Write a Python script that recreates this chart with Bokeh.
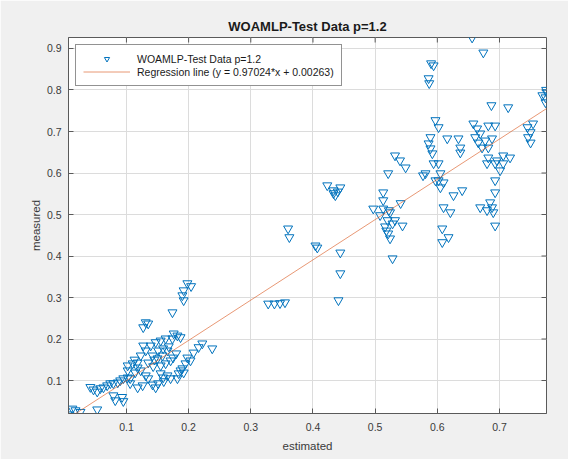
import math
from bokeh.plotting import figure
from bokeh.models import Range1d, FixedTicker, Legend, LegendItem
from bokeh.embed import file_html
from bokeh.resources import INLINE

title_text = "WOAMLP-Test Data p=1.2"
series_label = "WOAMLP-Test Data p=1.2"
line_label = "Regression line (y = 0.97024*x + 0.00263)"
slope = 0.97024
intercept = 0.00263

x_ticks = [0.1, 0.2, 0.3, 0.4, 0.5, 0.6, 0.7]
y_ticks = [0.1, 0.2, 0.3, 0.4, 0.5, 0.6, 0.7, 0.8, 0.9]
x_lo, x_hi = 0.0068, 0.7756
y_lo, y_hi = 0.0205, 0.9265

# low cluster
est_low = [0.007, 0.013, 0.018, 0.026, 0.053, 0.079, 0.082, 0.093, 0.095, 0.042, 0.047, 0.053,
           0.058, 0.063, 0.069, 0.074, 0.079, 0.086, 0.090, 0.095, 0.102, 0.102, 0.110, 0.118,
           0.198, 0.204, 0.192, 0.190, 0.192, 0.174, 0.131, 0.135, 0.127, 0.176, 0.182, 0.187,
           0.174, 0.222, 0.216, 0.238, 0.208, 0.198, 0.203, 0.195, 0.190, 0.192, 0.155, 0.159,
           0.166, 0.151, 0.147, 0.139, 0.147, 0.155, 0.163, 0.151, 0.159, 0.168, 0.142, 0.150,
           0.158, 0.166, 0.171, 0.135, 0.143, 0.155, 0.163, 0.131, 0.123, 0.127, 0.123, 0.131,
           0.114, 0.106, 0.135, 0.142, 0.126, 0.187, 0.184, 0.182, 0.102, 0.118, 0.106, 0.118,
           0.171, 0.160, 0.145, 0.175, 0.180, 0.113]
mea_low = [0.018, 0.032, 0.028, 0.024, 0.030, 0.064, 0.052, 0.060, 0.050, 0.084, 0.078, 0.073,
           0.081, 0.083, 0.088, 0.093, 0.093, 0.095, 0.100, 0.105, 0.107, 0.136, 0.141, 0.143,
           0.334, 0.327, 0.317, 0.305, 0.293, 0.264, 0.240, 0.237, 0.228, 0.213, 0.208, 0.204,
           0.201, 0.189, 0.180, 0.177, 0.167, 0.155, 0.148, 0.141, 0.129, 0.119, 0.117, 0.107,
           0.112, 0.093, 0.083, 0.184, 0.192, 0.196, 0.201, 0.172, 0.177, 0.182, 0.160, 0.153,
           0.160, 0.172, 0.148, 0.143, 0.134, 0.136, 0.141, 0.172, 0.160, 0.184, 0.124, 0.112,
           0.119, 0.105, 0.105, 0.090, 0.088, 0.124, 0.117, 0.105, 0.124, 0.131, 0.093, 0.083,
           0.105, 0.098, 0.150, 0.155, 0.165, 0.150]

# middle cluster
est_mid = [0.328, 0.338, 0.347, 0.355, 0.360, 0.362, 0.404, 0.407, 0.423, 0.433, 0.444, 0.436,
           0.433, 0.440, 0.444, 0.444, 0.441, 0.497, 0.513, 0.513, 0.541, 0.513, 0.524, 0.520,
           0.528, 0.544, 0.521, 0.524, 0.532, 0.508, 0.516, 0.522, 0.518, 0.528, 0.521, 0.532,
           0.540, 0.549]
mea_mid = [0.285, 0.285, 0.286, 0.288, 0.466, 0.445, 0.425, 0.420, 0.570, 0.551, 0.565, 0.546,
           0.558, 0.555, 0.408, 0.358, 0.293, 0.514, 0.553, 0.534, 0.527, 0.514, 0.505, 0.486,
           0.478, 0.473, 0.454, 0.442, 0.486, 0.498, 0.471, 0.510, 0.461, 0.394, 0.599, 0.642,
           0.630, 0.613]

# high cluster
est_high = [0.656, 0.674, 0.590, 0.594, 0.586, 0.587, 0.687, 0.714, 0.776, 0.774, 0.774, 0.769,
            0.775, 0.597, 0.602, 0.589, 0.586, 0.589, 0.616, 0.634, 0.637, 0.658, 0.664, 0.669,
            0.661, 0.666, 0.682, 0.693, 0.688, 0.682, 0.745, 0.754, 0.750, 0.746, 0.750, 0.706,
            0.717, 0.592, 0.594, 0.602, 0.605, 0.602, 0.610, 0.605, 0.577, 0.626, 0.640, 0.610,
            0.621, 0.608, 0.618, 0.608, 0.680, 0.696, 0.706, 0.701, 0.693, 0.693, 0.669, 0.680,
            0.688, 0.690, 0.685, 0.693, 0.637, 0.581, 0.597, 0.677, 0.672, 0.682, 0.693]
mea_high = [0.926, 0.890, 0.864, 0.859, 0.828, 0.816, 0.763, 0.758, 0.794, 0.782, 0.770, 0.787,
            0.800, 0.727, 0.710, 0.686, 0.671, 0.659, 0.683, 0.683, 0.661, 0.719, 0.707, 0.695,
            0.686, 0.673, 0.714, 0.714, 0.683, 0.661, 0.710, 0.719, 0.698, 0.686, 0.673, 0.642,
            0.637, 0.647, 0.623, 0.623, 0.599, 0.582, 0.577, 0.565, 0.594, 0.546, 0.558, 0.517,
            0.505, 0.466, 0.445, 0.433, 0.623, 0.630, 0.623, 0.606, 0.582, 0.553, 0.517, 0.510,
            0.517, 0.505, 0.529, 0.473, 0.649, 0.599, 0.582, 0.678, 0.661, 0.637, 0.623]

estimated = est_low + est_mid + est_high
measured = mea_low + mea_mid + mea_high

FONT = "Liberation Sans"
TXT = "#3a3a3a"
AX = "#5a5a5a"

p = figure(width=568, height=459, output_backend="svg", toolbar_location=None,
           x_range=Range1d(x_lo, x_hi), y_range=Range1d(y_lo, y_hi),
           min_border_left=68, min_border_right=22, min_border_top=37, min_border_bottom=46,
           background_fill_color="white", border_fill_color="#f0f0f0",
           outline_line_color=AX, outline_line_width=1)

p.title.text = title_text
p.title.align = "center"
p.title.text_font = FONT
p.title.text_font_size = "13px"
p.title.text_font_style = "bold"
p.title.text_color = "#1a1a1a"
p.title.standoff = 8

for ax in p.xaxis:
    ax.ticker = FixedTicker(ticks=x_ticks)
for ax in p.yaxis:
    ax.ticker = FixedTicker(ticks=y_ticks)

for ax in p.axis:
    ax.major_tick_in = 5
    ax.major_tick_out = 0
    ax.minor_tick_line_color = None
    ax.axis_line_color = AX
    ax.major_tick_line_color = AX
    ax.major_label_text_font = FONT
    ax.major_label_text_font_size = "10.5px"
    ax.major_label_text_color = TXT
    ax.axis_label_text_font = FONT
    ax.axis_label_text_font_size = "11.5px"
    ax.axis_label_text_font_style = "normal"
    ax.axis_label_text_color = TXT

p.xaxis.axis_label = "estimated"
p.yaxis.axis_label = "measured"
p.xaxis.major_label_standoff = 9
p.yaxis.major_label_standoff = 7
p.xaxis.axis_label_standoff = 6
p.yaxis.axis_label_standoff = 2

p.xgrid.ticker = FixedTicker(ticks=x_ticks)
p.ygrid.ticker = FixedTicker(ticks=y_ticks)
p.grid.grid_line_color = "#dcdcdc"
p.grid.grid_line_width = 1

# inward ticks on the top and right edges of the box (half of each dash is clipped by the frame)
p.scatter(x_ticks, [y_hi] * len(x_ticks), marker="dash", angle=math.pi / 2, size=10,
          line_color=AX, line_width=1)
p.scatter([x_hi] * len(y_ticks), y_ticks, marker="dash", size=10,
          line_color=AX, line_width=1)

reg_x = [min(estimated), max(estimated)]
reg_y = [slope * v + intercept for v in reg_x]

pts = p.scatter(estimated, measured, marker="inverted_triangle", size=9,
                line_color="#0072BD", line_width=1, fill_color=None)
ln = p.line(reg_x, reg_y, line_color="#D95319", line_alpha=0.6, line_width=1)

legend = Legend(items=[LegendItem(label=series_label, renderers=[pts]),
                       LegendItem(label=line_label, renderers=[ln])],
                location="top_left", margin=7, padding=7, spacing=0,
                glyph_width=47, glyph_height=13, label_standoff=7,
                label_text_font=FONT, label_text_font_size="10.5px", label_text_color="#1a1a1a",
                border_line_color="#262626", border_line_width=1,
                background_fill_color="white", background_fill_alpha=1)
p.add_layout(legend)

open("out.html", "w").write(file_html(p, INLINE))
